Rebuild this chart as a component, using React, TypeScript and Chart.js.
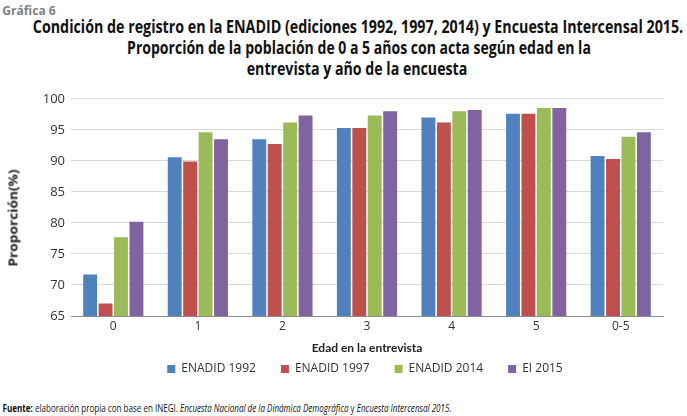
import React, { useEffect, useLayoutEffect, useRef } from "react";
import { Chart, registerables } from "chart.js";

Chart.register(...registerables);

const categories = ["0", "1", "2", "3", "4", "5", "0-5"];
const enadid1992 = [71.7, 90.6, 93.5, 95.3, 97.0, 97.6, 90.8];
const enadid1997 = [67.0, 89.9, 92.7, 95.3, 96.2, 97.6, 90.3];
const enadid2014 = [77.7, 94.6, 96.2, 97.3, 98.0, 98.5, 93.9];
const ei2015 = [80.2, 93.5, 97.3, 98.0, 98.2, 98.5, 94.6];
const seriesNames = ["ENADID 1992", "ENADID 1997", "ENADID 2014", "EI 2015"];
const seriesColors = ["#4F81BD", "#C0504D", "#9BBB59", "#8064A2"];

const BODY = '"Open Sans", "Noto Sans", sans-serif';
const NARROWISH = 'Lato, "Open Sans", sans-serif';

function FitText(props: { cx: number; cy: number; width: number; rotate?: boolean; style?: any; children: any }) {
  const ref = useRef<HTMLDivElement | null>(null);
  useLayoutEffect(() => {
    const el = ref.current;
    if (!el) return;
    const w = el.offsetWidth || 1;
    const s = props.width / w;
    el.style.transform = `translate(-50%, -50%) ${props.rotate ? "rotate(-90deg) " : ""}scaleX(${s})`;
  }, []);
  return (
    <div
      ref={ref}
      style={{
        position: "absolute",
        left: props.cx,
        top: props.cy,
        whiteSpace: "nowrap",
        lineHeight: 1,
        transformOrigin: "center center",
        ...props.style,
      }}
    >
      {props.children}
    </div>
  );
}

const legendCenterPlugin = {
  id: "legendCenter",
  afterLayout(chart: any) {
    const lg = chart.legend;
    if (!lg) return;
    const target = 365;
    const shift = target - (lg.left + lg.right) / 2;
    lg.left += shift;
    lg.right += shift;
  },
};

export default function App() {
  const ref = useRef<HTMLCanvasElement | null>(null);

  useEffect(() => {
    document.body.style.margin = "0";
    const ctx = ref.current;
    if (!ctx) return;
    const seriesData = [enadid1992, enadid1997, enadid2014, ei2015];
    const chart = new Chart(ctx, {
      type: "bar",
      data: {
        labels: categories,
        datasets: seriesData.map((d, i) => ({
          label: seriesNames[i],
          data: d,
          backgroundColor: seriesColors[i],
          borderWidth: 0,
          barPercentage: 0.9,
          categoryPercentage: 0.73,
        })),
      },
      plugins: [legendCenterPlugin],
      options: {
        animation: false,
        responsive: false,
        devicePixelRatio: 1,
        layout: { padding: { left: 0, right: 24, top: 9, bottom: 0 } },
        plugins: {
          title: { display: false },
          tooltip: { enabled: false },
          legend: {
            position: "bottom",
            labels: {
              boxWidth: 8,
              boxHeight: 8,
              padding: 25,
              color: "#333",
              font: { family: BODY, size: 12 },
            },
          },
        },
        scales: {
          x: {
            grid: { display: false, tickLength: 0 },
            border: { display: true, color: "#8c8c8c", width: 1 },
            ticks: { color: "#333", font: { family: BODY, size: 12 }, padding: 3 },
            title: {
              display: true,
              text: "Edad en la entrevista",
              color: "#222",
              font: { family: NARROWISH, size: 12, weight: "bold" },
              padding: { top: 0, bottom: -17 },
            },
            afterFit: (s: any) => {
              s.height = 22;
            },
          },
          y: {
            min: 65,
            max: 100,
            ticks: { stepSize: 5, color: "#333", font: { family: BODY, size: 13 }, padding: 6 },
            grid: { color: "#d9d9d9", drawTicks: false },
            border: { display: false },
            afterFit: (s: any) => {
              s.width = 71;
            },
          },
        },
      },
    } as any);
    return () => chart.destroy();
  }, []);

  const titleStyle = { fontFamily: BODY, fontWeight: "bold", fontSize: 17, color: "#111" };

  return (
    <div style={{ position: "absolute", left: 0, top: 0, width: 687, height: 416, background: "#fff", overflow: "hidden" }}>
      <canvas ref={ref} width={687} height={300} style={{ position: "absolute", left: 0, top: 85, width: 687, height: 300 }} />
      <FitText cx={29} cy={10} width={54} style={{ fontFamily: BODY, fontWeight: "bold", fontSize: 13, color: "#7f7f7f" }}>
        Gráfica 6
      </FitText>
      <FitText cx={358} cy={26} width={650} style={titleStyle}>
        Condición de registro en la ENADID (ediciones 1992, 1997, 2014) y Encuesta Intercensal 2015.
      </FitText>
      <FitText cx={359} cy={47} width={464} style={titleStyle}>
        Proporción de la población de 0 a 5 años con acta según edad en la
      </FitText>
      <FitText cx={357} cy={68} width={221} style={titleStyle}>
        entrevista y año de la encuesta
      </FitText>
      <FitText cx={13} cy={218} width={97} rotate style={{ fontFamily: BODY, fontWeight: "bold", fontSize: 13, color: "#222" }}>
        Proporción(%)
      </FitText>
      <FitText cx={226.5} cy={408} width={449} style={{ fontFamily: BODY, fontSize: 10, color: "#111" }}>
        <b>Fuente:</b> elaboración propia con base en INEGI. <i>Encuesta Nacional de la Dinámica Demográfica</i> y{" "}
        <i>Encuesta Intercensal 2015.</i>
      </FitText>
    </div>
  );
}
